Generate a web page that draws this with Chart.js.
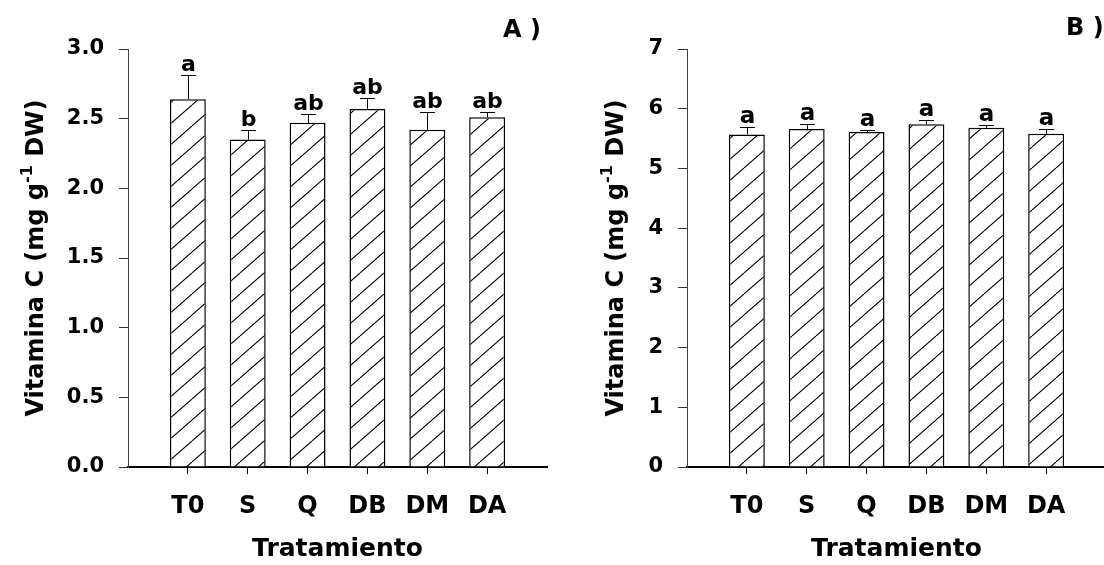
<!DOCTYPE html>
<html>
<head>
<meta charset="utf-8">
<script src="https://cdn.jsdelivr.net/npm/chart.js@4"></script>
<style>
  html, body { margin: 0; padding: 0; background: #fff; overflow: hidden; }
  #chartA { position: absolute; left: 0; top: 0; }
  #chartB { position: absolute; left: 552px; top: 0; }
</style>
</head>
<body>
<canvas id="chartA" width="552" height="565"></canvas>
<canvas id="chartB" width="560" height="565"></canvas>
<script>
// data
const categories = ['T0', 'S', 'Q', 'DB', 'DM', 'DA'];

const valuesA = [2.64, 2.35, 2.47, 2.57, 2.42, 2.51];
const errorsA = [0.17, 0.07, 0.06, 0.075, 0.13, 0.04];
const lettersA = ['a', 'b', 'ab', 'ab', 'ab', 'ab'];
const ticksA = [0, 0.5, 1.0, 1.5, 2.0, 2.5, 3.0];

const valuesB = [5.57, 5.66, 5.61, 5.74, 5.68, 5.58];
const errorsB = [0.13, 0.09, 0.04, 0.07, 0.05, 0.08];
const lettersB = ['a', 'a', 'a', 'a', 'a', 'a'];
const ticksB = [0, 1, 2, 3, 4, 5, 6, 7];

const FONT = '"DejaVu Sans", "Liberation Sans", sans-serif';
Chart.defaults.font.family = FONT;
Chart.defaults.font.weight = 'bold';
Chart.defaults.color = '#000';

function makeHatch(ctx) {
    const c = document.createElement('canvas');
    c.width = 24;
    c.height = 21;
    const g = c.getContext('2d');
    g.fillStyle = '#fff';
    g.fillRect(0, 0, 24, 21);
    g.strokeStyle = '#000';
    g.lineWidth = 1.1;
    g.beginPath();
    g.moveTo(0, 21); g.lineTo(24, 0);
    g.moveTo(-24, 21); g.lineTo(0, 0);
    g.moveTo(24, 21); g.lineTo(48, 0);
    g.stroke();
    return ctx.createPattern(c, 'repeat');
}

// error bars (upper only) and significance letters
function errorPlugin(values, errors, letters, letterSize) {
    return {
        id: 'errorBars',
        afterDatasetsDraw(chart) {
            const { ctx, scales: { x, y } } = chart;
            ctx.save();
            ctx.strokeStyle = '#000';
            ctx.lineWidth = 1;
            ctx.fillStyle = '#000';
            ctx.font = 'bold ' + letterSize + 'px ' + FONT;
            ctx.textAlign = 'center';
            ctx.textBaseline = 'alphabetic';
            values.forEach((v, i) => {
                const px = Math.round(x.getPixelForValue(i)) + 0.5;
                const base = y.getPixelForValue(v);
                const top = Math.round(y.getPixelForValue(v + errors[i])) + 0.5;
                ctx.beginPath();
                ctx.moveTo(px, base);
                ctx.lineTo(px, top);
                ctx.moveTo(px - 7.5, top);
                ctx.lineTo(px + 7.5, top);
                ctx.stroke();
                ctx.fillText(letters[i], px, top - 5);
            });
            ctx.restore();
        }
    };
}

// rotated y title with superscript, plus panel tag
function labelPlugin(opts) {
    return {
        id: 'labels',
        afterDraw(chart) {
            const ctx = chart.ctx;
            const size = opts.size;
            const mainFont = 'bold ' + size + 'px ' + FONT;
            const supFont = 'bold ' + Math.round(size * 0.65) + 'px ' + FONT;
            ctx.save();
            ctx.fillStyle = '#000';
            ctx.textBaseline = 'alphabetic';
            ctx.textAlign = 'left';
            ctx.translate(opts.x, opts.y);
            ctx.rotate(-Math.PI / 2);
            ctx.font = mainFont;
            const w1 = ctx.measureText(opts.before).width;
            const w3 = ctx.measureText(opts.after).width;
            ctx.font = supFont;
            const w2 = ctx.measureText(opts.sup).width;
            const x0 = -(w1 + w2 + w3) / 2;
            ctx.font = mainFont;
            ctx.fillText(opts.before, x0, 0);
            ctx.font = supFont;
            ctx.fillText(opts.sup, x0 + w1, -size * 0.45);
            ctx.font = mainFont;
            ctx.fillText(opts.after, x0 + w1 + w2, 0);
            ctx.restore();

            ctx.save();
            ctx.fillStyle = '#000';
            ctx.font = 'bold 24px ' + FONT;
            ctx.textAlign = 'left';
            ctx.textBaseline = 'alphabetic';
            ctx.fillText(opts.tag, opts.tagX, opts.tagY);
            ctx.restore();
        }
    };
}

function buildChart(id, values, errors, letters, yTicks, yMax, decimals, axisLeft, rightPad, letterSize, labelOpts) {
    const ctx = document.getElementById(id).getContext('2d');
    const hatch = makeHatch(ctx);

    return new Chart(ctx, {
        type: 'bar',
        data: {
            datasets: [{
                data: values.map((v, i) => ({ x: i, y: v })),
                backgroundColor: hatch,
                borderColor: '#000',
                borderWidth: 1.5,
                barPercentage: 0.6,
                categoryPercentage: 1.0
            }]
        },
        options: {
            responsive: false,
            animation: false,
            layout: { padding: { top: 49, right: rightPad, bottom: 0, left: 0 } },
            plugins: {
                legend: { display: false },
                tooltip: { enabled: false }
            },
            scales: {
                x: {
                    type: 'linear',
                    min: -1,
                    max: 6,
                    offset: false,
                    afterBuildTicks: function (axis) {
                        axis.ticks = categories.map((c, i) => ({ value: i }));
                    },
                    afterFit: function (scale) { scale.height = 98; },
                    ticks: {
                        autoSkip: false,
                        maxRotation: 0,
                        padding: 18,
                        font: { size: 24, weight: 'bold' },
                        callback: function (value) { return categories[value]; }
                    },
                    grid: {
                        offset: false,
                        drawOnChartArea: false,
                        drawTicks: true,
                        tickLength: 7,
                        tickColor: '#000',
                        tickWidth: 1
                    },
                    border: { display: true, color: '#000', width: 2 },
                    title: {
                        display: true,
                        text: 'Tratamiento',
                        font: { size: 25, weight: 'bold' },
                        padding: { top: 0, bottom: 1 }
                    }
                },
                y: {
                    min: 0,
                    max: yMax,
                    afterBuildTicks: function (axis) {
                        axis.ticks = yTicks.map(v => ({ value: v }));
                    },
                    afterFit: function (scale) { scale.width = axisLeft; },
                    ticks: {
                        padding: 15,
                        font: { size: 21, weight: 'bold' },
                        callback: function (value) { return value.toFixed(decimals); }
                    },
                    grid: {
                        drawOnChartArea: false,
                        drawTicks: true,
                        tickLength: 9,
                        tickColor: '#333',
                        tickWidth: 1
                    },
                    border: { display: true, color: '#444', width: 1 }
                }
            }
        },
        plugins: [errorPlugin(values, errors, letters, letterSize), labelPlugin(labelOpts)]
    });
}

buildChart('chartA', valuesA, errorsA, lettersA, ticksA, 3.0, 1, 128, 5, 22, {
    before: 'Vitamina C (mg g', sup: '-1', after: ' DW)',
    size: 24, x: 43, y: 258,
    tag: 'A )', tagX: 503, tagY: 37
});

buildChart('chartB', valuesB, errorsB, lettersB, ticksB, 7, 0, 135, 6, 23, {
    before: 'Vitamina C (mg g', sup: '-1', after: ' DW)',
    size: 24, x: 71, y: 258,
    tag: 'B )', tagX: 514, tagY: 35
});
</script>
</body>
</html>
